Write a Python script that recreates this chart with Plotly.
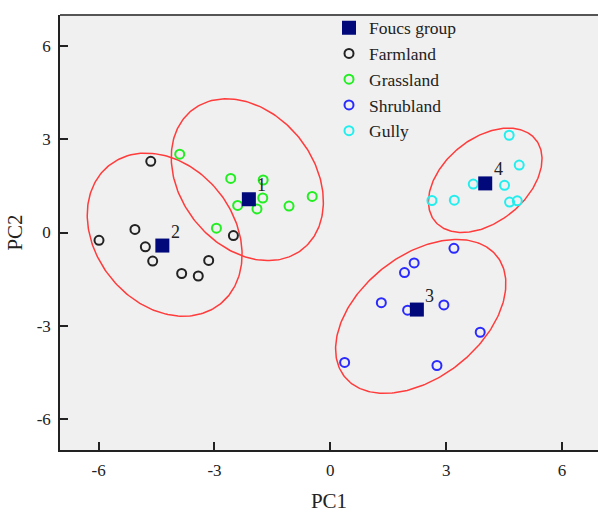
import numpy as np
import plotly.graph_objects as go

# ---- data ----
farm_x = [-4.65, -5.06, -5.99, -4.79, -2.51, -4.60, -3.85, -3.42, -3.15]
farm_y = [2.29, 0.10, -0.25, -0.46, -0.10, -0.92, -1.32, -1.40, -0.90]
grass_x = [-3.90, -2.58, -1.74, -1.75, -2.40, -1.90, -1.07, -0.47, -2.95]
grass_y = [2.52, 1.74, 1.69, 1.11, 0.87, 0.76, 0.85, 1.16, 0.14]
shrub_x = [3.20, 2.17, 1.92, 1.32, 2.00, 2.94, 3.88, 0.37, 2.76]
shrub_y = [-0.51, -0.98, -1.29, -2.26, -2.50, -2.33, -3.21, -4.18, -4.28]
gully_x = [4.63, 4.89, 3.70, 4.51, 2.63, 3.21, 4.64, 4.84]
gully_y = [3.13, 2.17, 1.56, 1.52, 1.03, 1.04, 0.98, 1.02]
focus_x = [-2.11, -4.35, 2.24, 4.01]
focus_y = [1.07, -0.42, -2.48, 1.58]
focus_labels = ["1", "2", "3", "4"]

# ellipse parameters: centre, semi-axes, rotation (degrees)
ell_cx = [-2.15, -4.29, 2.34, 4.01]
ell_cy = [1.70, -0.07, -2.70, 1.68]
ell_a = [2.71, 2.715, 2.81, 1.885]
ell_b = [1.82, 1.88, 1.76, 1.195]
ell_ang = [112.0, 110.8, 52.7, 54.0]

x_ticks = [-6, -3, 0, 3, 6]
x_tick_text = ["-6", "-3", "0", "3", "6"]
y_ticks = [-6, -3, 0, 3, 6]
y_tick_text = ["-6", "-3", "0", "3", "6"]

FONT = "Liberation Serif, Times New Roman, serif"

fig = go.Figure()

# ellipses
t = np.linspace(0, 2 * np.pi, 240)
for cx, cy, a, b, ang in zip(ell_cx, ell_cy, ell_a, ell_b, ell_ang):
    th = np.deg2rad(ang)
    ex = cx + a * np.cos(th) * np.cos(t) - b * np.sin(th) * np.sin(t)
    ey = cy + a * np.sin(th) * np.cos(t) + b * np.cos(th) * np.sin(t)
    fig.add_trace(go.Scatter(x=ex, y=ey, mode="lines",
                             line=dict(color="#ff3b3b", width=1.5),
                             showlegend=False, hoverinfo="skip"))

def pts(x, y, name, color, rank):
    fig.add_trace(go.Scatter(
        x=x, y=y, mode="markers", name=name, legendrank=rank,
        marker=dict(symbol="circle-open", size=9, color=color,
                    line=dict(width=2, color=color))))

pts(farm_x, farm_y, "Farmland", "#222222", 2)
pts(grass_x, grass_y, "Grassland", "#22ee22", 3)
pts(shrub_x, shrub_y, "Shrubland", "#2a2aff", 4)
pts(gully_x, gully_y, "Gully", "#22eeee", 5)

fig.add_trace(go.Scatter(
    x=focus_x, y=focus_y, mode="markers", name="Foucs group", legendrank=1,
    marker=dict(symbol="square", size=14, color="#00087a",
                line=dict(width=0))))

for fx, fy, lab in zip(focus_x, focus_y, focus_labels):
    fig.add_annotation(x=fx, y=fy, text=lab, showarrow=False,
                       xshift=13, yshift=14,
                       font=dict(family=FONT, size=18, color="#222222"))

# top frame line
fig.add_shape(type="line", xref="paper", yref="paper", x0=0, x1=1, y0=1, y1=1,
              line=dict(color="#555555", width=2))

axis_common = dict(showgrid=False, zeroline=False, ticks="inside", ticklen=8,
                   tickwidth=1.5, tickcolor="#222222", showline=True,
                   linecolor="#222222", linewidth=1.5,
                   tickfont=dict(family=FONT, size=17, color="#222222"))

fig.update_layout(
    width=598, height=514,
    margin=dict(l=60, r=0, t=15, b=64),
    paper_bgcolor="white", plot_bgcolor="#f0f0f0",
    font=dict(family=FONT, color="#222222"),
    xaxis=dict(range=[-7, 6.93], tickvals=x_ticks, ticktext=x_tick_text,
               ticklabelstandoff=4,
               title=dict(text="PC1", font=dict(family=FONT, size=21), standoff=14),
               **axis_common),
    yaxis=dict(range=[-7, 7], tickvals=y_ticks, ticktext=y_tick_text,
               ticklabelstandoff=4,
               title=dict(text="PC2", font=dict(family=FONT, size=21), standoff=8),
               **axis_common),
    legend=dict(x=0.5, y=1.012, xanchor="left", yanchor="top",
                bgcolor="rgba(0,0,0,0)", borderwidth=0, tracegroupgap=0,
                font=dict(family=FONT, size=17.5, color="#222222")),
)

fig.write_html("out.html")
